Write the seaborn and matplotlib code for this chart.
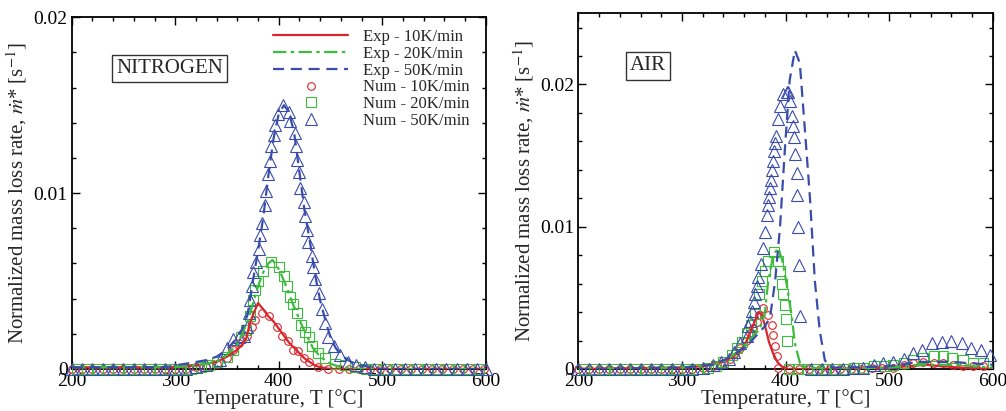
import numpy as np
import pandas as pd
import matplotlib
matplotlib.use('Agg')
import matplotlib.pyplot as plt
import seaborn as sns
from matplotlib.ticker import MultipleLocator

RED = '#d9262c'
GREEN = '#3cbb3c'
BLUE = '#3a4cab'

# ---------------- NITROGEN ----------------
n_exp10_t = [200, 250, 300, 320, 340, 350, 360, 365, 369, 372, 376, 380, 385, 390, 395, 400,
             405, 410, 415, 420, 425, 430, 435, 440, 450, 500, 600]
n_exp10_m = [0.0001, 0.0001, 0.0001, 0.0002, 0.0004, 0.0007, 0.0011, 0.0014, 0.0018, 0.0026,
             0.0032, 0.00375, 0.0034, 0.0030, 0.0027, 0.0023, 0.0019, 0.0015, 0.0012, 0.0009,
             0.0006, 0.0004, 0.0002, 0.0001, 0.0, 0.0, 0.0]

n_exp20_t = [200, 250, 300, 320, 340, 350, 360, 370, 375, 380, 385, 390, 394, 398, 403, 408,
             413, 418, 423, 428, 433, 440, 450, 460, 480, 600]
n_exp20_m = [0.0001, 0.0001, 0.0001, 0.0002, 0.0004, 0.0008, 0.0014, 0.0027, 0.0037, 0.0047,
             0.0055, 0.0060, 0.0062, 0.0059, 0.0053, 0.0046, 0.0038, 0.0031, 0.0024, 0.0018,
             0.0012, 0.0007, 0.0003, 0.0001, 0.0, 0.0]

n_exp50_t = [200, 250, 290, 300, 310, 320, 330, 340, 350, 360, 365, 370, 375, 380, 385, 390,
             395, 400, 405, 410, 415, 420, 425, 430, 435, 440, 445, 450, 455, 460, 470, 480,
             490, 500, 600]
n_exp50_m = [0.0001, 0.0001, 0.0001, 0.0002, 0.0003, 0.0004, 0.0005, 0.0007, 0.0011, 0.0018,
             0.0023, 0.0031, 0.0050, 0.0067, 0.0086, 0.0110, 0.0131, 0.0145, 0.0150, 0.0146,
             0.0134, 0.0112, 0.0090, 0.0073, 0.0054, 0.0039, 0.0028, 0.0018, 0.0012, 0.0008,
             0.0004, 0.0002, 0.0001, 0.0, 0.0]

n_num10_t = [200, 210, 220, 230, 240, 250, 260, 270, 280, 290, 300, 310, 320, 330, 340, 350,
             356, 362, 369, 374, 377, 384, 391, 398, 403, 409, 414, 419, 424, 429, 438, 448,
             458, 468, 478, 488, 498, 508, 518, 528, 538, 548, 558, 568, 578, 588, 598]
n_num10_m = [0.0, 0.0, 0.0, 0.0, 0.0, 0.0, 0.0, 0.0, 0.0, 0.0, 0.0, 0.0, 0.0001, 0.0001, 0.0003,
             0.0006, 0.0011, 0.0015, 0.0019, 0.0024, 0.0028, 0.0032, 0.0030, 0.0024, 0.0019,
             0.0016, 0.0011, 0.0010, 0.0006, 0.0004, 0.0001, 0.0, 0.0, 0.0, 0.0, 0.0, 0.0, 0.0,
             0.0, 0.0, 0.0, 0.0, 0.0, 0.0, 0.0, 0.0, 0.0]

n_num20_t = [205, 215, 225, 235, 245, 255, 265, 275, 285, 295, 305, 315, 325, 333, 340, 350,
             356, 364, 368, 372, 375, 377, 380, 385, 393, 400, 405, 408, 411, 414, 418, 422,
             425, 429, 432, 438, 445, 454, 464, 474, 484, 494, 504, 514, 524, 534, 544, 554,
             564, 574, 584, 594]
n_num20_m = [0.0, 0.0, 0.0, 0.0, 0.0, 0.0, 0.0, 0.0, 0.0, 0.0, 0.0, 0.0, 0.0001, 0.0002, 0.0004,
             0.0007, 0.0011, 0.0018, 0.0022, 0.0030, 0.0039, 0.0045, 0.0050, 0.0056, 0.0061,
             0.0058, 0.0053, 0.0047, 0.0041, 0.0037, 0.0032, 0.0025, 0.0021, 0.0018, 0.0013,
             0.0009, 0.0006, 0.0003, 0.0002, 0.0001, 0.0, 0.0, 0.0, 0.0, 0.0, 0.0, 0.0, 0.0,
             0.0, 0.0, 0.0, 0.0]

n_num50_t = [200, 210, 220, 230, 240, 250, 260, 270, 280, 290, 300, 310, 320, 330, 343, 350,
             356, 362, 366, 369, 371, 372, 374, 375.5, 378.5, 380.5, 382, 383.5, 386.5, 387.5,
             390, 391.5, 393, 395, 396.5, 399.5, 404.5, 409.5, 411, 415.5, 416.5, 417.5, 420,
             420.5, 424, 425.5, 427, 428.5, 432, 433.5, 435, 438.5, 441.5, 445, 448, 453, 459,
             467, 475, 483, 492, 502, 512, 522, 532, 542, 552, 562, 572, 582, 592, 600]
n_num50_m = [0.0, 0.0, 0.0, 0.0, 0.0, 0.0, 0.0, 0.0, 0.0, 0.0, 0.0, 0.0, 0.0001, 0.0002, 0.0005,
             0.0012, 0.0017, 0.0018, 0.0019, 0.0024, 0.0032, 0.0039, 0.0047, 0.0055, 0.0061,
             0.0068, 0.0076, 0.0083, 0.0093, 0.0101, 0.0111, 0.0118, 0.0127, 0.0133, 0.0139,
             0.0145, 0.0150, 0.0146, 0.0141, 0.0134, 0.0127, 0.0119, 0.0112, 0.0103, 0.0095,
             0.0087, 0.0079, 0.0072, 0.0064, 0.0058, 0.0051, 0.0043, 0.0034, 0.0026, 0.0018,
             0.0013, 0.0008, 0.0004, 0.0002, 0.0001, 0.0, 0.0, 0.0, 0.0, 0.0, 0.0, 0.0, 0.0,
             0.0, 0.0, 0.0, 0.0]

# ---------------- AIR ----------------
a_exp10_t = [200, 300, 320, 340, 350, 355, 360, 365, 370, 374, 377, 380, 384, 388, 392, 396,
             402, 450, 500, 520, 535, 550, 570, 600]
a_exp10_m = [0.0, 0.0001, 0.0002, 0.0005, 0.0009, 0.0012, 0.0016, 0.0024, 0.0033, 0.0040,
             0.0038, 0.0031, 0.0019, 0.0011, 0.0005, 0.0002, 0.0, 0.0, 0.0001, 0.0002, 0.0003,
             0.0002, 0.0001, 0.0]

a_exp20_t = [200, 300, 330, 340, 350, 360, 370, 375, 380, 383, 388, 393, 397, 401, 406, 409,
             414, 420, 450, 500, 530, 560, 600]
a_exp20_m = [0.0, 0.0001, 0.0003, 0.0005, 0.0010, 0.0016, 0.0024, 0.0028, 0.0039, 0.0060,
             0.0080, 0.0085, 0.0076, 0.0060, 0.0037, 0.0018, 0.0004, 0.0001, 0.0, 0.0001,
             0.0003, 0.0003, 0.0001]

a_exp50_t = [200, 300, 330, 340, 350, 360, 365, 370, 375, 380, 385, 390, 394.7, 399.5, 404,
             409, 413.8, 418.7, 423.5, 428.3, 433, 438, 445, 460, 500, 530, 560, 600]
a_exp50_m = [0.0, 0.0001, 0.0003, 0.0006, 0.0010, 0.0015, 0.0018, 0.0022, 0.0026, 0.0030,
             0.0036, 0.0062, 0.0100, 0.0156, 0.0203, 0.0224, 0.0215, 0.0168, 0.0121, 0.0062,
             0.0027, 0.0006, 0.0001, 0.0001, 0.0002, 0.0005, 0.0005, 0.0003]

a_num10_t = [200, 210, 220, 230, 240, 250, 260, 270, 280, 290, 300, 310, 320, 330, 340, 346,
             351, 356, 362, 366, 369, 372, 374, 378, 383, 386.6, 388.3, 390, 391.5, 392.5, 403,
             413, 423, 433, 443, 453, 463, 473, 483, 493, 504, 514, 523, 533, 543, 552, 562,
             571, 581, 591]
a_num10_m = [0.0, 0.0, 0.0, 0.0, 0.0, 0.0, 0.0, 0.0, 0.0, 0.0, 0.0, 0.0, 0.0001, 0.0002, 0.0004,
             0.0007, 0.0011, 0.0015, 0.0020, 0.0025, 0.0029, 0.0033, 0.0038, 0.0043, 0.0038,
             0.0031, 0.0024, 0.0016, 0.0009, 0.0001, 0.0, 0.0, 0.0, 0.0, 0.0, 0.0, 0.0, 0.0,
             0.0001, 0.0001, 0.0001, 0.0003, 0.0004, 0.0005, 0.0004, 0.0004, 0.0003, 0.0002,
             0.0002, 0.0002]

a_num20_t = [205, 215, 225, 235, 245, 255, 265, 275, 285, 295, 305, 315, 325, 333, 340, 348,
             353, 358, 362.5, 367, 370.6, 374.7, 377, 380, 383.4, 388.9, 393, 394.7, 396.3,
             397.9, 399.5, 400.5, 401.1, 403, 412, 421, 430, 439, 448, 457, 466, 475, 485, 495,
             504, 514, 523, 533, 543, 552, 561, 571, 581, 591]
a_num20_m = [0.0, 0.0, 0.0, 0.0, 0.0, 0.0, 0.0, 0.0, 0.0, 0.0, 0.0, 0.0, 0.0001, 0.0002, 0.0005,
             0.0010, 0.0015, 0.0019, 0.0025, 0.0031, 0.0039, 0.0053, 0.0062, 0.0069, 0.0076,
             0.0082, 0.0076, 0.0069, 0.0060, 0.0053, 0.0045, 0.0035, 0.0020, 0.0, 0.0, 0.0,
             0.0, 0.0, 0.0, 0.0, 0.0001, 0.0001, 0.0002, 0.0002, 0.0003, 0.0004, 0.0006,
             0.0008, 0.0009, 0.0009, 0.0008, 0.0006, 0.0004, 0.0004]

a_num50_t = [200, 210, 220, 230, 240, 250, 260, 270, 280, 290, 300, 310, 320, 330, 338, 345,
             350, 356, 362.5, 364, 365.7, 367.3, 369.6, 370.6, 372.2, 373.8, 376.4, 378.6,
             380.2, 381.8, 382.8, 384.4, 385, 385.7, 386.6, 387.6, 388.9, 389.9, 390.8, 393.1,
             394.7, 397.9, 401.1, 402.7, 404.3, 406, 407.5, 408.5, 409.2, 410.8, 411.4, 412.4,
             413.4, 414, 425, 435, 445, 455, 465, 475, 485, 494, 504, 514, 523, 532, 541, 551,
             560, 570, 579, 589, 597]
a_num50_m = [0.0, 0.0, 0.0, 0.0, 0.0, 0.0, 0.0, 0.0, 0.0, 0.0, 0.0, 0.0, 0.0001, 0.0003, 0.0005,
             0.0007, 0.0012, 0.0018, 0.0023, 0.0030, 0.0034, 0.0041, 0.0047, 0.0053, 0.0058,
             0.0065, 0.0074, 0.0085, 0.0096, 0.0108, 0.0115, 0.0121, 0.0127, 0.0133, 0.0140,
             0.0146, 0.0153, 0.0159, 0.0164, 0.0176, 0.0185, 0.0193, 0.0195, 0.0195, 0.0188,
             0.0178, 0.0171, 0.0163, 0.0151, 0.0138, 0.0122, 0.0100, 0.0073, 0.0037, 0.0, 0.0,
             0.0, 0.0, 0.0001, 0.0001, 0.0003, 0.0004, 0.0005, 0.0007, 0.0011, 0.0013, 0.0018,
             0.0019, 0.0020, 0.0018, 0.0015, 0.0013, 0.0010]

legend_labels = ['Exp - 10K/min', 'Exp - 20K/min', 'Exp - 50K/min',
                 'Num - 10K/min', 'Num - 20K/min', 'Num - 50K/min']
panel_titles = ['NITROGEN', 'AIR']
x_ticks = [200, 300, 400, 500, 600]
y_ticks = [0, 0.01, 0.02]
y_tick_labels = ['0', '0.01', '0.02']

sns.set_style('ticks')
plt.rcParams['font.family'] = ['Liberation Serif', 'DejaVu Serif']
plt.rcParams['mathtext.fontset'] = 'stix'

fig = plt.figure(figsize=(10.06, 4.11), dpi=100)
ax_n = fig.add_axes([0.0713, 0.1022, 0.4115, 0.8557])
ax_a = fig.add_axes([0.5749, 0.1022, 0.4119, 0.8655])

line_styles = [(RED, '-'), (GREEN, (0, (6, 2, 1.5, 2))), (BLUE, (0, (5, 3)))]
marker_styles = [(RED, 'o', 5.5), (GREEN, 's', 6.5), (BLUE, '^', 8)]


def draw_panel(ax, exps, nums, ymax, title, tx, ty, show_legend):
    for (t, m), (col, ls), lab in zip(exps, line_styles, legend_labels[:3]):
        sns.lineplot(x=t, y=m, ax=ax, color=col, linestyle=ls, linewidth=1.6,
                     label=lab if show_legend else None, zorder=4, estimator=None)
    for (t, m), (col, mk, ms), lab in zip(nums, marker_styles, legend_labels[3:]):
        sns.lineplot(x=t, y=m, ax=ax, color=col, linestyle='none', marker=mk,
                     markersize=ms, markerfacecolor='none', markeredgecolor=col,
                     markeredgewidth=0.8, label=lab if show_legend else None,
                     zorder=3, estimator=None, clip_on=False)

    ax.set_xlim(200, 600)
    ax.set_ylim(0, ymax)
    ax.set_xticks(x_ticks)
    ax.set_yticks(y_ticks)
    ax.set_yticklabels(y_tick_labels)
    ax.xaxis.set_minor_locator(MultipleLocator(20))
    ax.yaxis.set_minor_locator(MultipleLocator(0.002))
    ax.tick_params(which='both', direction='in', top=True, right=True, labelsize=14,
                   width=1.0, colors='black')
    ax.tick_params(which='major', length=6, pad=3)
    ax.tick_params(which='minor', length=3)
    for sp in ax.spines.values():
        sp.set_linewidth(1.3)
        sp.set_color('black')
    ax.set_xlabel('Temperature, T [°C]', fontsize=15, labelpad=-1)
    ax.set_ylabel(r'Normalized mass loss rate, $\dot{m}$* [s$^{-1}$]', fontsize=15, labelpad=3)
    ax.text(tx, ty, title, transform=ax.transAxes, fontsize=15, ha='center', va='center',
            bbox=dict(boxstyle='square,pad=0.2', facecolor='white', edgecolor='#333333',
                      linewidth=1.0))
    if show_legend:
        ax.legend(loc='upper right', bbox_to_anchor=(0.99, 1.0), frameon=False, fontsize=12,
                  labelspacing=0.05, handlelength=4.5, handletextpad=0.9, borderaxespad=0.3)
    else:
        leg = ax.get_legend()
        if leg is not None:
            leg.remove()


draw_panel(ax_n,
           [(n_exp10_t, n_exp10_m), (n_exp20_t, n_exp20_m), (n_exp50_t, n_exp50_m)],
           [(n_num10_t, n_num10_m), (n_num20_t, n_num20_m), (n_num50_t, n_num50_m)],
           0.02, panel_titles[0], 0.237, 0.854, True)
draw_panel(ax_a,
           [(a_exp10_t, a_exp10_m), (a_exp20_t, a_exp20_m), (a_exp50_t, a_exp50_m)],
           [(a_num10_t, a_num10_m), (a_num20_t, a_num20_m), (a_num50_t, a_num50_m)],
           0.025, panel_titles[1], 0.168, 0.852, False)

fig.savefig('out.png', dpi=100)
